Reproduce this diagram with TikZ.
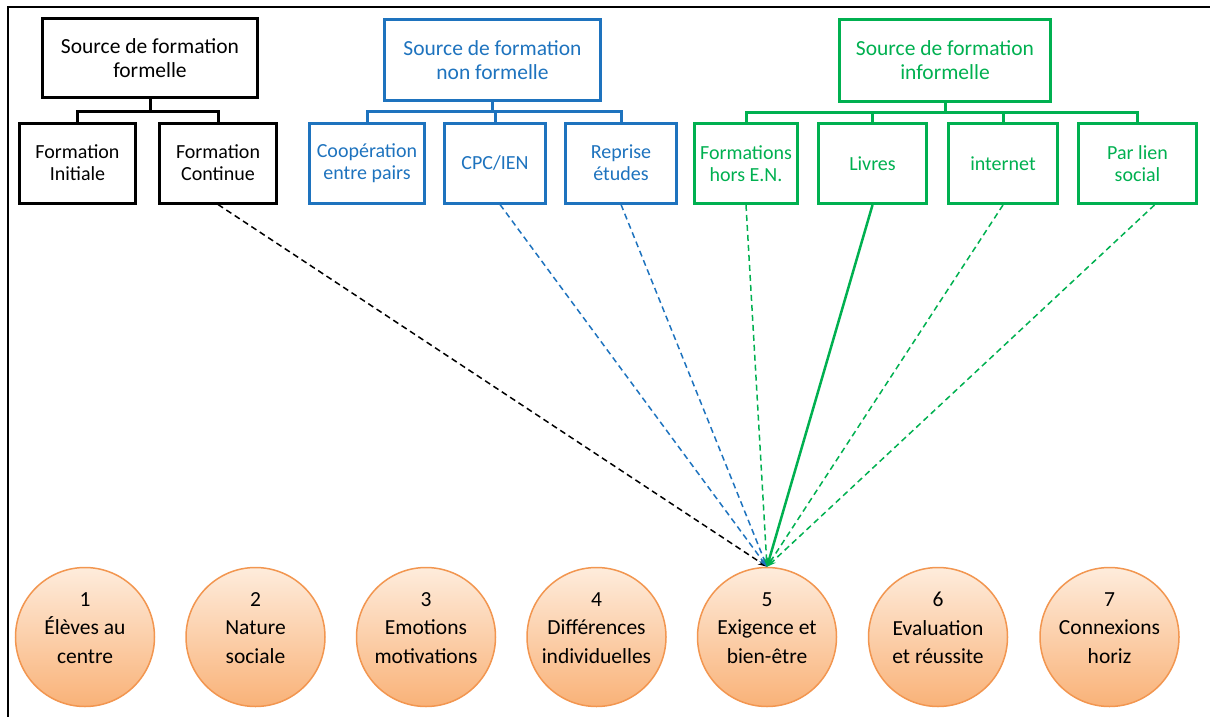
\documentclass[tikz,border=0pt]{standalone}
\usepackage{fontspec}
\setmainfont{Carlito}
\usetikzlibrary{arrows.meta}

\definecolor{srcblue}{RGB}{30,115,190}
\definecolor{srcgreen}{RGB}{0,176,80}
\definecolor{princline}{RGB}{242,150,80}
\definecolor{princtop}{RGB}{254,236,220}
\definecolor{princbot}{RGB}{249,178,120}

\begin{document}
\begin{tikzpicture}[x=1pt,y=-1pt,
    srcbox/.style={draw,rectangle,line width=3pt,align=center,inner sep=0pt},
    topbox/.style={srcbox,font=\fontsize{21.5}{24}\selectfont},
    subbox/.style={srcbox,minimum height=80pt,font=\fontsize{20}{22}\selectfont},
    tree/.style={line width=3pt},
    princ/.style={circle,draw=princline,line width=1.5pt,top color=princtop,bottom color=princbot,minimum size=139pt,inner sep=0pt},
    princtext/.style={align=center,font=\fontsize{21.5}{28.5}\selectfont},
    link/.style={line width=1.5pt,dash pattern=on 6pt off 4pt,-{Stealth[length=9pt,width=6pt]}}]
    \useasboundingbox (0,0) rectangle (1210,717);
    \draw[line width=2pt] (8,717) -- (8,7) -- (1210,7);

    \node[topbox,minimum width=215pt,minimum height=78pt] (formelle) at (150,58) {Source de formation\\formelle};
    \node[subbox,minimum width=116pt] (initiale) at (77.5,163) {Formation\\Initiale};
    \node[subbox,minimum width=117pt] (fcontinue) at (218,163) {Formation\\Continue};
    \draw[tree] (initiale.north) -- ++(0,-10) -| (formelle.south);
    \draw[tree] (fcontinue.north) -- ++(0,-10) -| (formelle.south);

    \node[topbox,srcblue,minimum width=216pt,minimum height=81pt] (nonformelle) at (492.5,60) {Source de formation\\non formelle};
    \node[subbox,srcblue,minimum width=115pt] (coop) at (367,163) {Coopération\\entre pairs};
    \node[subbox,srcblue,minimum width=101pt] (cpc) at (495,163) {CPC/IEN};
    \node[subbox,srcblue,minimum width=111pt] (reprise) at (621,163) {Reprise\\études};
    \foreach \n in {coop,cpc,reprise}
        \draw[tree,srcblue] (\n.north) -- ++(0,-10) -| (nonformelle.south);

    \node[topbox,srcgreen,minimum width=211pt,minimum height=82pt] (informelle) at (945,60.5) {Source de formation\\informelle};
    \node[subbox,srcgreen,minimum width=103pt] (horsen) at (746,163.5) {Formations\\hors E.N.};
    \node[subbox,srcgreen,minimum width=108pt] (livres) at (872.5,163.5) {Livres};
    \node[subbox,srcgreen,minimum width=109pt] (internet) at (1003,163.5) {internet};
    \node[subbox,srcgreen,minimum width=118pt] (parlien) at (1137.5,163.5) {Par lien\\social};
    \foreach \n in {horsen,livres,internet,parlien}
        \draw[tree,srcgreen] (\n.north) -- ++(0,-10) -| (informelle.south);

    \foreach \i/\x/\txt in {1/85/{Élèves au\\centre},2/255.5/{Nature\\sociale},3/426/{Emotions\\motivations},
        4/596.5/{Différences\\individuelles},5/767/{Exigence et\\bien-être},6/938/{Evaluation\\et réussite},
        7/1109.5/{Connexions\\horiz}} {
        \node[princ] (p\i) at (\x,637) {};
        \node[princtext] (t\i) at (\x,628) {\i\\\txt};
    }

    \draw[link] (fcontinue.south) -- (p5.north);
    \draw[link,srcblue] ([xshift=5pt]cpc.south) -- (p5.north);
    \draw[link,srcblue] (reprise.south) -- (p5.north);
    \draw[link,srcgreen] (horsen.south) -- (p5.north);
    \draw[line width=2.5pt,srcgreen,-{Stealth[length=10pt,width=7pt]}] (livres.south) -- (p5.north);
    \draw[link,srcgreen] (internet.south) -- (p5.north);
    \draw[link,srcgreen] ([xshift=17pt]parlien.south) -- (p5.north);
\end{tikzpicture}
\end{document}
